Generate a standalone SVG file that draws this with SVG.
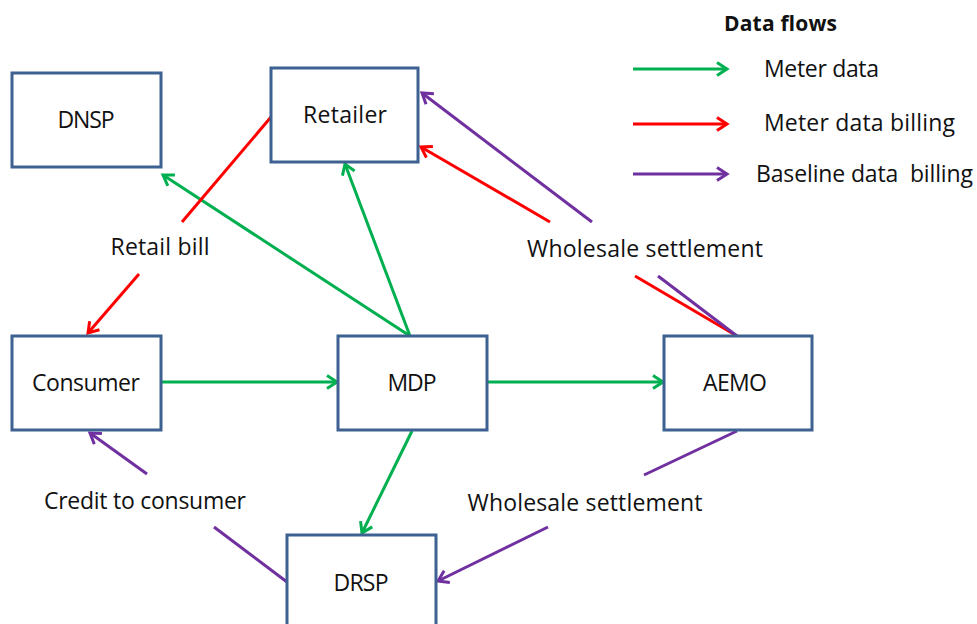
<svg xmlns="http://www.w3.org/2000/svg" width="977" height="624" viewBox="0 0 977 624">
<style>
.box{fill:#fff;stroke:#3D6191;stroke-width:3}
.t{font-family:"Open Sans","Liberation Sans",sans-serif;font-size:23px;fill:#111;text-anchor:middle}
.lt{font-family:"Open Sans","Liberation Sans",sans-serif;font-size:23px;fill:#111}
.g{stroke:#00B050;stroke-width:3;fill:none}
.r{stroke:#FF0000;stroke-width:3;fill:none}
.p{stroke:#7030A0;stroke-width:3;fill:none}
</style>
<defs>
<marker id="ag" markerUnits="userSpaceOnUse" markerWidth="20" markerHeight="20" viewBox="-14 -10 20 20" refX="0" refY="0" orient="auto" overflow="visible"><path d="M-10,-6.5 L0,0 L-10,6.5" fill="none" stroke="#00B050" stroke-width="3"/></marker>
<marker id="ar" markerUnits="userSpaceOnUse" markerWidth="20" markerHeight="20" viewBox="-14 -10 20 20" refX="0" refY="0" orient="auto" overflow="visible"><path d="M-10,-6.5 L0,0 L-10,6.5" fill="none" stroke="#FF0000" stroke-width="3"/></marker>
<marker id="ap" markerUnits="userSpaceOnUse" markerWidth="20" markerHeight="20" viewBox="-14 -10 20 20" refX="0" refY="0" orient="auto" overflow="visible"><path d="M-10,-6.5 L0,0 L-10,6.5" fill="none" stroke="#7030A0" stroke-width="3"/></marker>
</defs>
<rect width="977" height="624" fill="#fff"/>
<g id="connectors">
<line class="g" x1="161" y1="382" x2="337" y2="382" marker-end="url(#ag)"/>
<line class="g" x1="487" y1="382" x2="663" y2="382" marker-end="url(#ag)"/>
<line class="g" x1="410" y1="336" x2="345" y2="164" marker-end="url(#ag)"/>
<line class="g" x1="410" y1="336" x2="163" y2="175" marker-end="url(#ag)"/>
<line class="g" x1="412" y1="431" x2="362" y2="533" marker-end="url(#ag)"/>
<line class="r" x1="271" y1="117" x2="182" y2="222"/>
<line class="r" x1="139" y1="274" x2="88" y2="333" marker-end="url(#ar)"/>
<line class="r" x1="737" y1="336" x2="635" y2="276"/>
<line class="r" x1="550" y1="222" x2="421" y2="147" marker-end="url(#ar)"/>
<line class="p" x1="737" y1="336" x2="658" y2="276"/>
<line class="p" x1="592" y1="222" x2="422" y2="93" marker-end="url(#ap)"/>
<line class="p" x1="737" y1="431" x2="644" y2="475"/>
<line class="p" x1="548" y1="527" x2="438" y2="581" marker-end="url(#ap)"/>
<line class="p" x1="287" y1="582" x2="214" y2="527"/>
<line class="p" x1="147" y1="474" x2="90" y2="433" marker-end="url(#ap)"/>
</g>
<g id="labels">
<text class="t" x="160" y="255" textLength="99">Retail bill</text>
<text class="t" x="645" y="257" textLength="236">Wholesale settlement</text>
<text class="t" x="145" y="509" textLength="202">Credit to consumer</text>
<text class="t" x="585" y="511" textLength="235">Wholesale settlement</text>
</g>
<g id="DNSP"><rect class="box" x="12" y="73" width="149" height="94"/><text class="t" x="86" y="128" textLength="57">DNSP</text></g>
<g id="Retailer"><rect class="box" x="271" y="68" width="147" height="94"/><text class="t" x="345" y="123" textLength="84">Retailer</text></g>
<g id="Consumer"><rect class="box" x="12" y="336" width="149" height="94"/><text class="t" x="86" y="391" textLength="108">Consumer</text></g>
<g id="MDP"><rect class="box" x="338" y="336" width="149" height="94"/><text class="t" x="412" y="391" textLength="49">MDP</text></g>
<g id="AEMO"><rect class="box" x="664" y="336" width="148" height="94"/><text class="t" x="735" y="391" textLength="64">AEMO</text></g>
<g id="DRSP"><rect class="box" x="287" y="535" width="149" height="100"/><text class="t" x="361" y="591" textLength="55">DRSP</text></g>
<g id="legend">
<text x="724" y="31" font-family="'Open Sans','Liberation Sans',sans-serif" font-size="21" font-weight="bold" fill="#111" textLength="113">Data flows</text>
<line class="g" x1="633" y1="69" x2="727" y2="69" marker-end="url(#ag)"/>
<text class="lt" x="764" y="77" textLength="115">Meter data</text>
<line class="r" x1="633" y1="124" x2="727" y2="124" marker-end="url(#ar)"/>
<text class="lt" x="764" y="131" textLength="191">Meter data billing</text>
<line class="p" x1="633" y1="174" x2="727" y2="174" marker-end="url(#ap)"/>
<text class="lt" x="756" y="182" textLength="217" xml:space="preserve">Baseline data  billing</text>
</g>
</svg>
